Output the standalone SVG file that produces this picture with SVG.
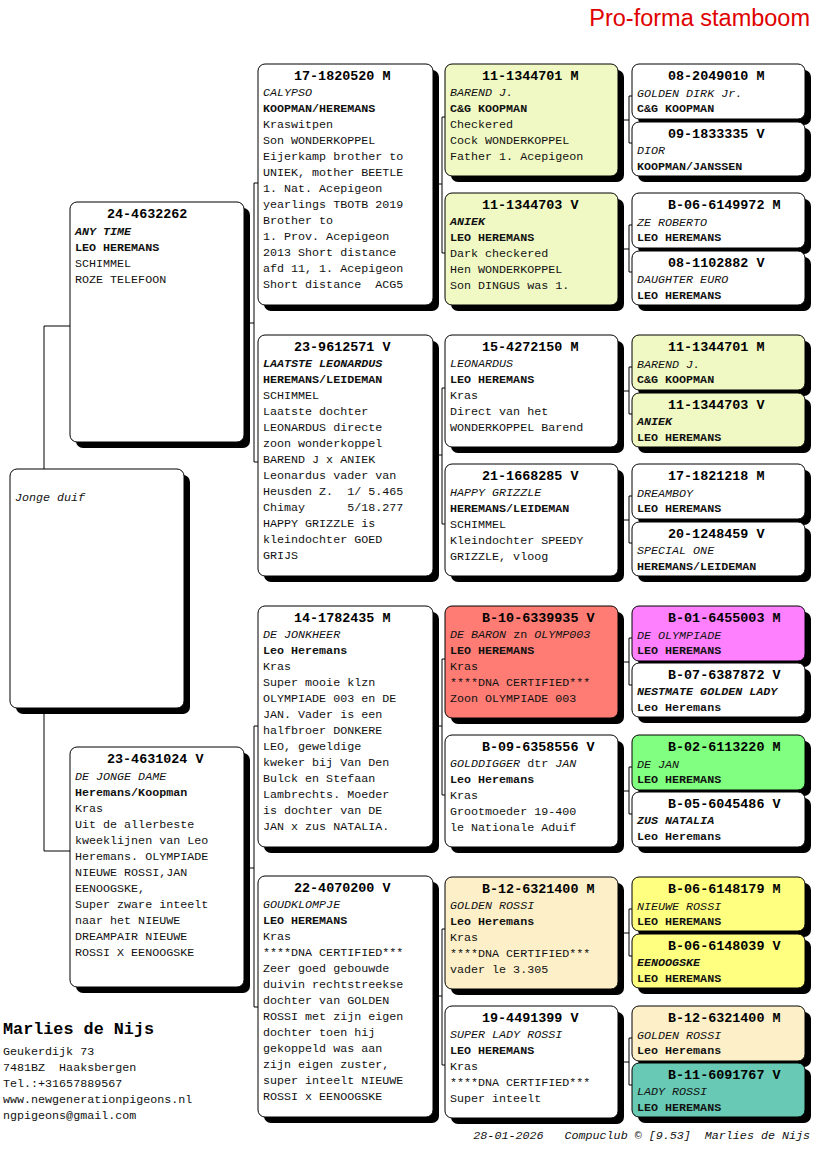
<svg xmlns="http://www.w3.org/2000/svg" width="816" height="1172" viewBox="0 0 816 1172">
<style>
text{font-family:"Liberation Mono","Courier New",monospace;font-size:11.7px;fill:#111;white-space:pre}
.h{font-size:13.4px;font-weight:bold;fill:#000}
.n{font-style:italic}
.nb{font-style:italic;font-weight:bold}
.o{font-weight:bold}
.u{font-style:normal}
.sh{fill:#000}
.bx{fill:#fff;stroke:#000;stroke-width:1}
.cg{fill:#f0f9c3}
.cr{fill:#ff7c74}
.cm{fill:#ff80ff}
.cn{fill:#80ff80}
.cp{fill:#fdf0c8}
.cy{fill:#ffff80}
.ct{fill:#68c9b4}
#connectors path{fill:none;stroke:#000;stroke-width:1}
.title{font-family:"Liberation Sans",Arial,sans-serif;font-size:23.5px;fill:#e00000}
.ft{font-style:italic}
.big{font-size:16.8px;font-weight:bold;fill:#000}
</style>
<rect width="816" height="1172" fill="#fff"/>
<text class="title" x="810" y="26" text-anchor="end">Pro-forma stamboom</text>

<g id="connectors">
<path d="M44,469V326H70M44,708V851H70"/>
<path d="M244,323H254M258,183H254V462H258"/>
<path d="M244,868H254M258,726H254V1007H258"/>
<path d="M433,184H442M445,117H442V253H445"/>
<path d="M433,455H442M445,388H442V524H445"/>
<path d="M433,726H442M445,659H442V795H445"/>
<path d="M433,996H442M445,929H442V1065H445"/>
<path d="M618,120H629M632,96H629V143H632"/>
<path d="M618,249H629M632,225H629V272H632"/>
<path d="M618,391H629M632,367H629V414H632"/>
<path d="M618,520H629M632,496H629V543H632"/>
<path d="M618,662H629M632,638H629V685H632"/>
<path d="M618,791H629M632,767H629V814H632"/>
<path d="M618,933H629M632,909H629V956H632"/>
<path d="M618,1062H629M632,1038H629V1085H632"/>
</g>

<g id="n-jonge-duif" transform="translate(10,469)">
<rect class="sh" x="6" y="6" width="174" height="239" rx="7"/>
<rect class="bx" width="174" height="239" rx="7"/>
<text class="n" x="5" y="32">Jonge duif</text>
</g>

<g id="n-24-4632262" transform="translate(70,202)">
<rect class="sh" x="6" y="6" width="174" height="240" rx="7"/>
<rect class="bx" width="174" height="240" rx="7"/>
<text class="h" x="37" y="16">24-4632262</text>
<text class="nb" x="5" y="33">ANY TIME</text>
<text class="o" x="5" y="49">LEO HEREMANS</text>
<text x="5" y="65">SCHIMMEL</text>
<text x="5" y="81">ROZE TELEFOON</text>
</g>

<g id="n-23-4631024" transform="translate(70,747)">
<rect class="sh" x="6" y="6" width="174" height="240" rx="7"/>
<rect class="bx" width="174" height="240" rx="7"/>
<text class="h" x="37" y="16">23-4631024 V</text>
<text class="n" x="5" y="33">DE JONGE DAME</text>
<text class="o" x="5" y="49">Heremans/Koopman</text>
<text x="5" y="65">Kras</text>
<text x="5" y="81">Uit de allerbeste</text>
<text x="5" y="97">kweeklijnen van Leo</text>
<text x="5" y="113">Heremans. OLYMPIADE</text>
<text x="5" y="129">NIEUWE ROSSI,JAN</text>
<text x="5" y="145">EENOOGSKE,</text>
<text x="5" y="161">Super zware inteelt</text>
<text x="5" y="177">naar het NIEUWE</text>
<text x="5" y="193">DREAMPAIR NIEUWE</text>
<text x="5" y="209">ROSSI X EENOOGSKE</text>
</g>

<g id="n-17-1820520" transform="translate(258,64)">
<rect class="sh" x="6" y="6" width="175" height="241" rx="7"/>
<rect class="bx" width="175" height="241" rx="7"/>
<text class="h" x="36" y="16">17-1820520 M</text>
<text class="n" x="5" y="32">CALYPSO</text>
<text class="o" x="5" y="48">KOOPMAN/HEREMANS</text>
<text x="5" y="64">Kraswitpen</text>
<text x="5" y="80">Son WONDERKOPPEL</text>
<text x="5" y="96">Eijerkamp brother to</text>
<text x="5" y="112">UNIEK, mother BEETLE</text>
<text x="5" y="128">1. Nat. Acepigeon</text>
<text x="5" y="144">yearlings TBOTB 2019</text>
<text x="5" y="160">Brother to</text>
<text x="5" y="176">1. Prov. Acepigeon</text>
<text x="5" y="192">2013 Short distance</text>
<text x="5" y="208">afd 11, 1. Acepigeon</text>
<text x="5" y="224">Short distance  ACG5</text>
</g>

<g id="n-23-9612571" transform="translate(258,335)">
<rect class="sh" x="6" y="6" width="175" height="241" rx="7"/>
<rect class="bx" width="175" height="241" rx="7"/>
<text class="h" x="36" y="16">23-9612571 V</text>
<text class="nb" x="5" y="32">LAATSTE LEONARDUS</text>
<text class="o" x="5" y="48">HEREMANS/LEIDEMAN</text>
<text x="5" y="64">SCHIMMEL</text>
<text x="5" y="80">Laatste dochter</text>
<text x="5" y="96">LEONARDUS directe</text>
<text x="5" y="112">zoon wonderkoppel</text>
<text x="5" y="128">BAREND J x ANIEK</text>
<text x="5" y="144">Leonardus vader van</text>
<text x="5" y="160">Heusden Z.  1/ 5.465</text>
<text x="5" y="176">Chimay      5/18.277</text>
<text x="5" y="192">HAPPY GRIZZLE is</text>
<text x="5" y="208">kleindochter GOED</text>
<text x="5" y="224">GRIJS</text>
</g>

<g id="n-14-1782435" transform="translate(258,606)">
<rect class="sh" x="6" y="6" width="175" height="241" rx="7"/>
<rect class="bx" width="175" height="241" rx="7"/>
<text class="h" x="36" y="16">14-1782435 M</text>
<text class="n" x="5" y="32">DE JONKHEER</text>
<text class="o" x="5" y="48">Leo Heremans</text>
<text x="5" y="64">Kras</text>
<text x="5" y="80">Super mooie klzn</text>
<text x="5" y="96">OLYMPIADE 003 en DE</text>
<text x="5" y="112">JAN. Vader is een</text>
<text x="5" y="128">halfbroer DONKERE</text>
<text x="5" y="144">LEO, geweldige</text>
<text x="5" y="160">kweker bij Van Den</text>
<text x="5" y="176">Bulck en Stefaan</text>
<text x="5" y="192">Lambrechts. Moeder</text>
<text x="5" y="208">is dochter van DE</text>
<text x="5" y="224">JAN x zus NATALIA.</text>
</g>

<g id="n-22-4070200" transform="translate(258,876)">
<rect class="sh" x="6" y="6" width="175" height="241" rx="7"/>
<rect class="bx" width="175" height="241" rx="7"/>
<text class="h" x="36" y="16">22-4070200 V</text>
<text class="n" x="5" y="32">GOUDKLOMPJE</text>
<text class="o" x="5" y="48">LEO HEREMANS</text>
<text x="5" y="64">Kras</text>
<text x="5" y="80">****DNA CERTIFIED***</text>
<text x="5" y="96">Zeer goed gebouwde</text>
<text x="5" y="112">duivin rechtstreekse</text>
<text x="5" y="128">dochter van GOLDEN</text>
<text x="5" y="144">ROSSI met zijn eigen</text>
<text x="5" y="160">dochter toen hij</text>
<text x="5" y="176">gekoppeld was aan</text>
<text x="5" y="192">zijn eigen zuster,</text>
<text x="5" y="208">super inteelt NIEUWE</text>
<text x="5" y="224">ROSSI x EENOOGSKE</text>
</g>

<g id="n-11-1344701-a" transform="translate(445,64)">
<rect class="sh" x="6" y="6" width="173" height="112" rx="7"/>
<rect class="bx cg" width="173" height="112" rx="7"/>
<text class="h" x="37" y="16">11-1344701 M</text>
<text class="n" x="5" y="32">BAREND J.</text>
<text class="o" x="5" y="48">C&amp;G KOOPMAN</text>
<text x="5" y="64">Checkered</text>
<text x="5" y="80">Cock WONDERKOPPEL</text>
<text x="5" y="96">Father 1. Acepigeon</text>
</g>

<g id="n-11-1344703-a" transform="translate(445,193)">
<rect class="sh" x="6" y="6" width="173" height="112" rx="7"/>
<rect class="bx cg" width="173" height="112" rx="7"/>
<text class="h" x="37" y="16">11-1344703 V</text>
<text class="nb" x="5" y="32">ANIEK</text>
<text class="o" x="5" y="48">LEO HEREMANS</text>
<text x="5" y="64">Dark checkered</text>
<text x="5" y="80">Hen WONDERKOPPEL</text>
<text x="5" y="96">Son DINGUS was 1.</text>
</g>

<g id="n-15-4272150" transform="translate(445,335)">
<rect class="sh" x="6" y="6" width="173" height="112" rx="7"/>
<rect class="bx" width="173" height="112" rx="7"/>
<text class="h" x="37" y="16">15-4272150 M</text>
<text class="n" x="5" y="32">LEONARDUS</text>
<text class="o" x="5" y="48">LEO HEREMANS</text>
<text x="5" y="64">Kras</text>
<text x="5" y="80">Direct van het</text>
<text x="5" y="96">WONDERKOPPEL Barend</text>
</g>

<g id="n-21-1668285" transform="translate(445,464)">
<rect class="sh" x="6" y="6" width="173" height="112" rx="7"/>
<rect class="bx" width="173" height="112" rx="7"/>
<text class="h" x="37" y="16">21-1668285 V</text>
<text class="n" x="5" y="32">HAPPY GRIZZLE</text>
<text class="o" x="5" y="48">HEREMANS/LEIDEMAN</text>
<text x="5" y="64">SCHIMMEL</text>
<text x="5" y="80">Kleindochter SPEEDY</text>
<text x="5" y="96">GRIZZLE, vloog</text>
</g>

<g id="n-B-10-6339935" transform="translate(445,606)">
<rect class="sh" x="6" y="6" width="173" height="112" rx="7"/>
<rect class="bx cr" width="173" height="112" rx="7"/>
<text class="h" x="37" y="16">B-10-6339935 V</text>
<text class="n" x="5" y="32">DE BARON <tspan class="u">zn</tspan> OLYMP003</text>
<text class="o" x="5" y="48">LEO HEREMANS</text>
<text x="5" y="64">Kras</text>
<text x="5" y="80">****DNA CERTIFIED***</text>
<text x="5" y="96">Zoon OLYMPIADE 003</text>
</g>

<g id="n-B-09-6358556" transform="translate(445,735)">
<rect class="sh" x="6" y="6" width="173" height="112" rx="7"/>
<rect class="bx" width="173" height="112" rx="7"/>
<text class="h" x="37" y="16">B-09-6358556 V</text>
<text class="n" x="5" y="32">GOLDDIGGER <tspan class="u">dtr</tspan> JAN</text>
<text class="o" x="5" y="48">Leo Heremans</text>
<text x="5" y="64">Kras</text>
<text x="5" y="80">Grootmoeder 19-400</text>
<text x="5" y="96">le Nationale Aduif</text>
</g>

<g id="n-B-12-6321400-a" transform="translate(445,877)">
<rect class="sh" x="6" y="6" width="173" height="112" rx="7"/>
<rect class="bx cp" width="173" height="112" rx="7"/>
<text class="h" x="37" y="16">B-12-6321400 M</text>
<text class="n" x="5" y="32">GOLDEN ROSSI</text>
<text class="o" x="5" y="48">Leo Heremans</text>
<text x="5" y="64">Kras</text>
<text x="5" y="80">****DNA CERTIFIED***</text>
<text x="5" y="96">vader le 3.305</text>
</g>

<g id="n-19-4491399" transform="translate(445,1006)">
<rect class="sh" x="6" y="6" width="173" height="112" rx="7"/>
<rect class="bx" width="173" height="112" rx="7"/>
<text class="h" x="37" y="16">19-4491399 V</text>
<text class="n" x="5" y="32">SUPER LADY ROSSI</text>
<text class="o" x="5" y="48">LEO HEREMANS</text>
<text x="5" y="64">Kras</text>
<text x="5" y="80">****DNA CERTIFIED***</text>
<text x="5" y="96">Super inteelt</text>
</g>

<g id="n-08-2049010" transform="translate(632,64)">
<rect class="sh" x="6" y="6" width="173" height="55" rx="7"/>
<rect class="bx" width="173" height="55" rx="7"/>
<text class="h" x="36" y="16">08-2049010 M</text>
<text class="n" x="5" y="33">GOLDEN DIRK Jr.</text>
<text class="o" x="5" y="48">C&amp;G KOOPMAN</text>
</g>

<g id="n-09-1833335" transform="translate(632,122)">
<rect class="sh" x="6" y="6" width="173" height="54" rx="7"/>
<rect class="bx" width="173" height="54" rx="7"/>
<text class="h" x="36" y="16">09-1833335 V</text>
<text class="n" x="5" y="32">DIOR</text>
<text class="o" x="5" y="48">KOOPMAN/JANSSEN</text>
</g>

<g id="n-B-06-6149972" transform="translate(632,193)">
<rect class="sh" x="6" y="6" width="173" height="55" rx="7"/>
<rect class="bx" width="173" height="55" rx="7"/>
<text class="h" x="36" y="16">B-06-6149972 M</text>
<text class="n" x="5" y="33">ZE ROBERTO</text>
<text class="o" x="5" y="48">LEO HEREMANS</text>
</g>

<g id="n-08-1102882" transform="translate(632,251)">
<rect class="sh" x="6" y="6" width="173" height="54" rx="7"/>
<rect class="bx" width="173" height="54" rx="7"/>
<text class="h" x="36" y="16">08-1102882 V</text>
<text class="n" x="5" y="32">DAUGHTER EURO</text>
<text class="o" x="5" y="48">LEO HEREMANS</text>
</g>

<g id="n-11-1344701-b" transform="translate(632,335)">
<rect class="sh" x="6" y="6" width="173" height="55" rx="7"/>
<rect class="bx cg" width="173" height="55" rx="7"/>
<text class="h" x="36" y="16">11-1344701 M</text>
<text class="n" x="5" y="33">BAREND J.</text>
<text class="o" x="5" y="48">C&amp;G KOOPMAN</text>
</g>

<g id="n-11-1344703-b" transform="translate(632,393)">
<rect class="sh" x="6" y="6" width="173" height="54" rx="7"/>
<rect class="bx cg" width="173" height="54" rx="7"/>
<text class="h" x="36" y="16">11-1344703 V</text>
<text class="nb" x="5" y="32">ANIEK</text>
<text class="o" x="5" y="48">LEO HEREMANS</text>
</g>

<g id="n-17-1821218" transform="translate(632,464)">
<rect class="sh" x="6" y="6" width="173" height="55" rx="7"/>
<rect class="bx" width="173" height="55" rx="7"/>
<text class="h" x="36" y="16">17-1821218 M</text>
<text class="n" x="5" y="33">DREAMBOY</text>
<text class="o" x="5" y="48">LEO HEREMANS</text>
</g>

<g id="n-20-1248459" transform="translate(632,522)">
<rect class="sh" x="6" y="6" width="173" height="54" rx="7"/>
<rect class="bx" width="173" height="54" rx="7"/>
<text class="h" x="36" y="16">20-1248459 V</text>
<text class="n" x="5" y="32">SPECIAL ONE</text>
<text class="o" x="5" y="48">HEREMANS/LEIDEMAN</text>
</g>

<g id="n-B-01-6455003" transform="translate(632,606)">
<rect class="sh" x="6" y="6" width="173" height="55" rx="7"/>
<rect class="bx cm" width="173" height="55" rx="7"/>
<text class="h" x="36" y="16">B-01-6455003 M</text>
<text class="n" x="5" y="33">DE OLYMPIADE</text>
<text class="o" x="5" y="48">LEO HEREMANS</text>
</g>

<g id="n-B-07-6387872" transform="translate(632,663)">
<rect class="sh" x="6" y="6" width="173" height="54" rx="7"/>
<rect class="bx" width="173" height="54" rx="7"/>
<text class="h" x="36" y="16">B-07-6387872 V</text>
<text class="nb" x="5" y="32">NESTMATE GOLDEN LADY</text>
<text class="o" x="5" y="48">Leo Heremans</text>
</g>

<g id="n-B-02-6113220" transform="translate(632,735)">
<rect class="sh" x="6" y="6" width="173" height="55" rx="7"/>
<rect class="bx cn" width="173" height="55" rx="7"/>
<text class="h" x="36" y="16">B-02-6113220 M</text>
<text class="n" x="5" y="33">DE JAN</text>
<text class="o" x="5" y="48">LEO HEREMANS</text>
</g>

<g id="n-B-05-6045486" transform="translate(632,792)">
<rect class="sh" x="6" y="6" width="173" height="55" rx="7"/>
<rect class="bx" width="173" height="55" rx="7"/>
<text class="h" x="36" y="16">B-05-6045486 V</text>
<text class="nb" x="5" y="32">ZUS NATALIA</text>
<text class="o" x="5" y="48">Leo Heremans</text>
</g>

<g id="n-B-06-6148179" transform="translate(632,877)">
<rect class="sh" x="6" y="6" width="173" height="54" rx="7"/>
<rect class="bx cy" width="173" height="54" rx="7"/>
<text class="h" x="36" y="16">B-06-6148179 M</text>
<text class="n" x="5" y="33">NIEUWE ROSSI</text>
<text class="o" x="5" y="48">LEO HEREMANS</text>
</g>

<g id="n-B-06-6148039" transform="translate(632,934)">
<rect class="sh" x="6" y="6" width="173" height="54" rx="7"/>
<rect class="bx cy" width="173" height="54" rx="7"/>
<text class="h" x="36" y="16">B-06-6148039 V</text>
<text class="nb" x="5" y="32">EENOOGSKE</text>
<text class="o" x="5" y="48">LEO HEREMANS</text>
</g>

<g id="n-B-12-6321400-b" transform="translate(632,1006)">
<rect class="sh" x="6" y="6" width="173" height="55" rx="7"/>
<rect class="bx cp" width="173" height="55" rx="7"/>
<text class="h" x="36" y="16">B-12-6321400 M</text>
<text class="n" x="5" y="33">GOLDEN ROSSI</text>
<text class="o" x="5" y="48">Leo Heremans</text>
</g>

<g id="n-B-11-6091767" transform="translate(632,1063)">
<rect class="sh" x="6" y="6" width="173" height="54" rx="7"/>
<rect class="bx ct" width="173" height="54" rx="7"/>
<text class="h" x="36" y="16">B-11-6091767 V</text>
<text class="n" x="5" y="32">LADY ROSSI</text>
<text class="o" x="5" y="48">LEO HEREMANS</text>
</g>

<g id="footer">
<text class="big" x="3" y="1034">Marlies de Nijs</text>
<text x="3" y="1055">Geukerdijk 73</text>
<text x="3" y="1071">7481BZ  Haaksbergen</text>
<text x="3" y="1087">Tel.:+31657889567</text>
<text x="3" y="1103">www.newgenerationpigeons.nl</text>
<text x="3" y="1119">ngpigeons@gmail.com</text>
<text class="ft" x="810" y="1139" text-anchor="end">28-01-2026   Compuclub © [9.53]  Marlies de Nijs</text>
</g>
</svg>
